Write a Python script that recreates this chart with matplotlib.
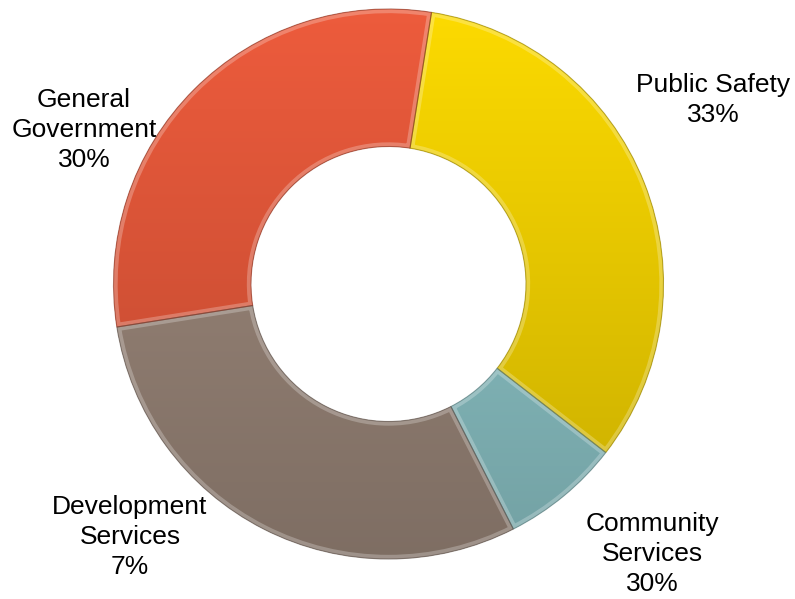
import numpy as np
import matplotlib
matplotlib.use("Agg")
import matplotlib.pyplot as plt
from matplotlib.colors import to_rgb
from matplotlib.patches import PathPatch

# Budget shares by department (clockwise from the top)
categories = ["Public Safety", "Community Services", "Development Services", "General Government"]
shares = [33, 7, 30, 30]
# Percent text printed beside each department name
share_labels = ["33%", "30%", "7%", "30%"]
colors = ["#F3D200", "#8CC4C7", "#9A8679", "#E4583A"]

W, H = 795, 599
fig = plt.figure(figsize=(W / 100, H / 100), dpi=100)
ax = fig.add_axes([0, 0, 1, 1])

cx, cy = 388.5, H - 284
R = 275
ring_w = 0.5

wedges, _ = ax.pie(
    shares, radius=R, center=(cx, cy), startangle=81, counterclock=False,
    colors=colors, frame=True,
    wedgeprops=dict(width=R * ring_w, edgecolor="none", linewidth=0),
)

# Vertical shading: brighter toward the top, darker toward the bottom
ny = 400
yy = np.linspace(cy - R, cy + R, ny)
shade = 0.82 + 0.22 * (yy - (cy - R)) / (2 * R)
for w, c in zip(wedges, colors):
    base = np.array(to_rgb(c))
    img = np.clip(shade[:, None, None] * base[None, None, :], 0, 1)
    img = np.repeat(img, 2, axis=1)
    im = ax.imshow(img, extent=(cx - R, cx + R, cy - R, cy + R),
                   origin="lower", aspect="auto", zorder=2, interpolation="bilinear")
    im.set_clip_path(w)
    path = w.get_path()
    # soft bevel highlight along the segment edges, clipped to the segment
    hl = PathPatch(path, fill=False, edgecolor="white", alpha=0.25, linewidth=6, zorder=3)
    ax.add_patch(hl)
    hl.set_clip_path(w)
    ax.add_patch(PathPatch(path, fill=False, edgecolor=tuple(base * 0.6), alpha=0.6,
                           linewidth=0.8, zorder=4))

ax.set_xlim(0, W)
ax.set_ylim(0, H)
ax.set_aspect("equal")
ax.axis("off")

label_pos = [(713, H - 100), (652, H - 554), (130, H - 537), (84, H - 130)]
for name, pct, (x, y) in zip(categories, share_labels, label_pos):
    text = name.replace(" ", "\n") if name != "Public Safety" else name
    ax.text(x, y, f"{text}\n{pct}", ha="center", va="center", fontsize=19,
            family=["Liberation Sans", "DejaVu Sans"], linespacing=1.32, color="#000000", zorder=5)

fig.savefig("out.png", dpi=100)
